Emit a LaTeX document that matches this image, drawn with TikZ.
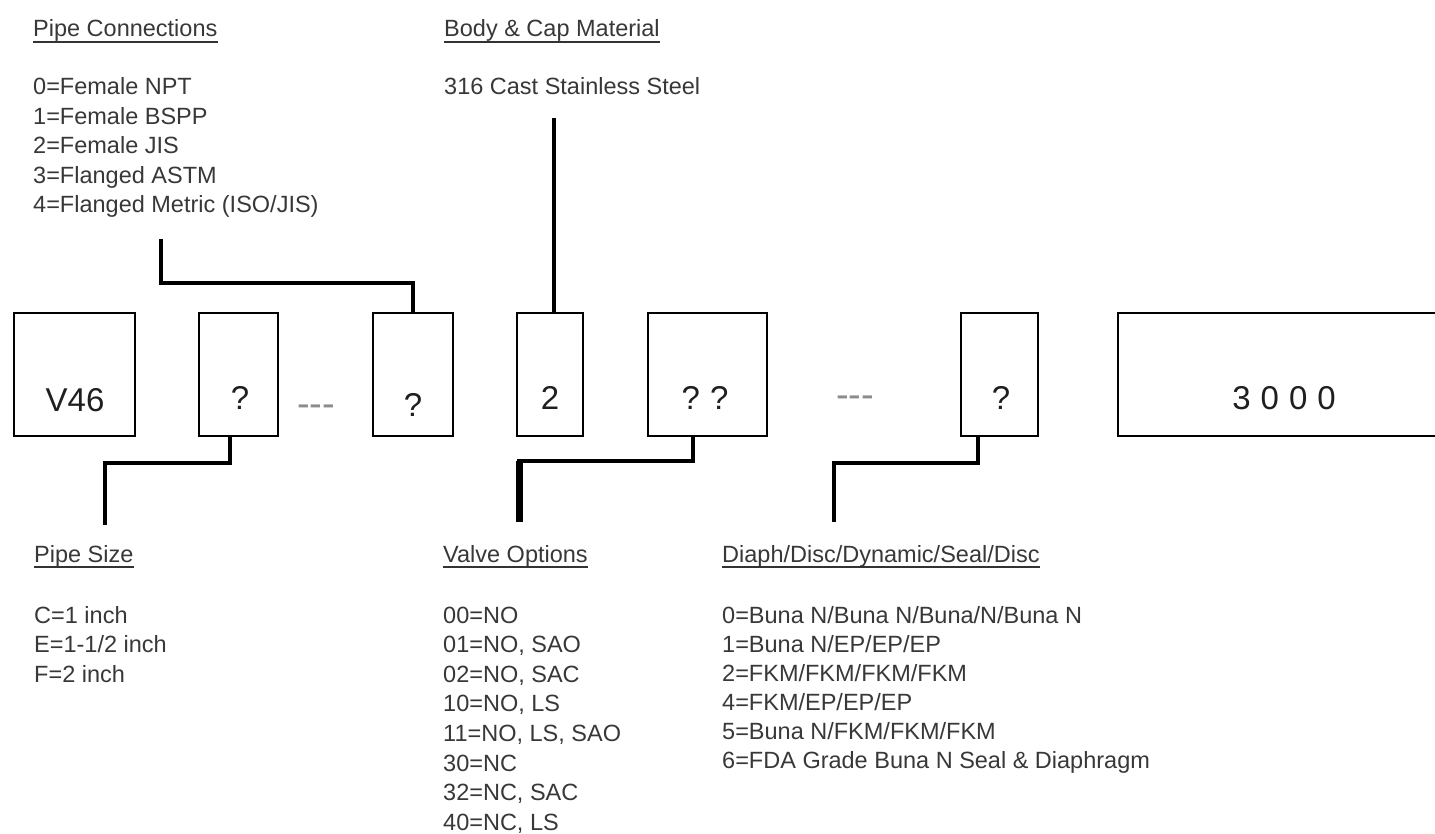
\documentclass[tikz,border=0pt]{standalone}
\usepackage{fontspec}
\setmainfont{Liberation Sans}
\begin{document}
\begin{tikzpicture}[x=1pt,y=-1pt,
  lbl/.style={anchor=base west, inner sep=0pt, font=\fontsize{23.5}{29.5}\selectfont, text=black!78},
  uline/.style={line width=1.8pt, black!80},
  box/.style={draw, line width=2.6pt, inner sep=0pt, outer sep=0pt},
  boxtxt/.style={anchor=base, inner sep=0pt, font=\fontsize{33}{36}\selectfont, text=black!88},
  gap/.style={anchor=base, inner sep=0pt, font=\fontsize{38}{40}\selectfont, text=black!45},
  conn/.style={line width=4pt, line cap=butt, line join=miter},
]
\fill[white] (0,0) rectangle (1435,834);
\useasboundingbox (0,0) rectangle (1435,834);

% code boxes
\node[box, minimum width=121pt, minimum height=123pt] (b1) at (74.5,374.5) {};
\node[box, minimum width=79pt, minimum height=123pt] (b2) at (238.5,374.5) {};
\node[box, minimum width=80pt, minimum height=123pt] (b3) at (413,374.5) {};
\node[box, minimum width=66pt, minimum height=123pt] (b4) at (550,374.5) {};
\node[box, minimum width=119pt, minimum height=123pt] (b5) at (707.5,374.5) {};
\node[box, minimum width=77pt, minimum height=123pt] (b6) at (999.5,374.5) {};
\node[box, minimum width=334pt, minimum height=123pt] (b7) at (1285,374.5) {};

% box texts
\node[boxtxt] (t1) at (75,411) {V46};
\node[boxtxt] (t2) at (240,409) {?};
\node[boxtxt] (t3) at (413,416) {?};
\node[boxtxt] (t4) at (550,409) {2};
\node[boxtxt] (t5) at (705,409) {?\hspace{10pt}?};
\node[boxtxt] (t6) at (1001,409) {?};
\node[boxtxt] (t7) at (1284,409) {3\hspace{10pt}0\hspace{10pt}0\hspace{10pt}0};
\node[gap] (g1) at (316,416) {-{}-{}-};
\node[gap] (g2) at (855,407) {-{}-{}-};

% headers
\node[lbl] (hpc) at (33,37) {Pipe Connections};
\node[lbl] (hbc) at (444,37) {Body \& Cap Material};
\node[lbl] (hps) at (34,562) {Pipe Size};
\node[lbl] (hvo) at (443,562) {Valve Options};
\node[lbl] (hdd) at (722,562) {Diaph/Disc/Dynamic/Seal/Disc};
\foreach \h in {hpc,hbc,hps,hvo,hdd}
  \draw[uline] ([yshift=-5pt]\h.base west) -- ([yshift=-5pt]\h.base east);

% lists
\foreach \t [count=\i from 0] in {0=Female NPT,1=Female BSPP,2=Female JIS,3=Flanged ASTM,4=Flanged Metric (ISO/JIS)}
  \node[lbl] (pc\i) at (33,95+29.5*\i) {\t};
\node[lbl] (bc0) at (444,95) {316 Cast Stainless Steel};
\foreach \t [count=\i from 0] in {C=1 inch,E=1-1/2 inch,F=2 inch}
  \node[lbl] (ps\i) at (34,623+29.5*\i) {\t};
\foreach \t [count=\i from 0] in {00=NO,{01=NO, SAO},{02=NO, SAC},{10=NO, LS},{11=NO, LS, SAO},30=NC,{32=NC, SAC},{40=NC, LS}}
  \node[lbl] (vo\i) at (443,623+29.6*\i) {\t};
\foreach \t [count=\i from 0] in {0=Buna N/Buna N/Buna/N/Buna N,1=Buna N/EP/EP/EP,2=FKM/FKM/FKM/FKM,4=FKM/EP/EP/EP,5=Buna N/FKM/FKM/FKM,6=FDA Grade Buna N Seal \& Diaphragm}
  \node[lbl] (dd\i) at (722,623+29*\i) {\t};

% connector ends
\coordinate (pcend) at (161,239);
\coordinate (bcend) at (554,118);
\coordinate (psend) at (105,525);
\coordinate (voend) at (519,522);
\coordinate (voknee) at (519,461);
\coordinate (ddend) at (834,522);

% connectors
\draw[conn] (b3.north) -- ++(0,-30) -| (pcend);
\draw[conn] ([xshift=4pt]b4.north) -- (bcend);
\draw[conn] ([xshift=-9pt]b2.south) -- ++(0,27) -| (psend);
\draw[conn] ([xshift=-15pt]b5.south) -- ++(0,25) -| (voend);
\draw[conn, line width=7pt] (voknee) -- (voend);
\draw[conn] ([xshift=-22pt]b6.south) -- ++(0,27) -| (ddend);
\end{tikzpicture}
\end{document}
